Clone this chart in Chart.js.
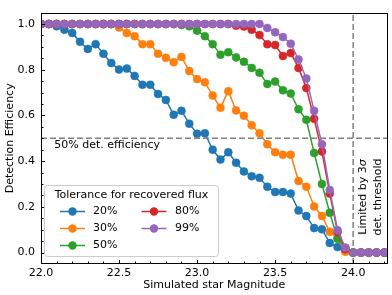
<!DOCTYPE html>
<html>
<head>
<meta charset="utf-8">
<script src="https://cdn.jsdelivr.net/npm/chart.js@4.4.1/dist/chart.umd.min.js"></script>
<style>
  html, body { margin: 0; padding: 0; background: #fff; }
  #wrap { width: 392px; height: 295px; }
</style>
</head>
<body>
<div id="wrap"><canvas id="c" width="392" height="295"></canvas></div>
<script>
// simulated magnitudes (x)
const magnitudes = [22.00, 22.05, 22.10, 22.15, 22.20, 22.25, 22.30, 22.35, 22.40, 22.45,
                    22.50, 22.55, 22.60, 22.65, 22.70, 22.75, 22.80, 22.85, 22.90, 22.95,
                    23.00, 23.05, 23.10, 23.15, 23.20, 23.25, 23.30, 23.35, 23.40, 23.45,
                    23.50, 23.55, 23.60, 23.65, 23.70, 23.75, 23.80, 23.85, 23.90, 23.95,
                    24.00, 24.05, 24.10, 24.15, 24.20]

// detection efficiency per flux tolerance
const eff20 = [1.000, 1.000, 0.990, 0.975, 0.961, 0.922, 0.891, 0.912, 0.870, 0.829,
               0.801, 0.805, 0.773, 0.734, 0.734, 0.694, 0.668, 0.603, 0.620, 0.564,
               0.520, 0.522, 0.450, 0.407, 0.439, 0.393, 0.355, 0.334, 0.327, 0.288,
               0.265, 0.265, 0.258, 0.184, 0.160, 0.107, 0.102, 0.042, 0.024, 0.008,
               0, 0, 0, 0, 0]
const eff30 = [1, 1, 1, 1, 1, 1, 1, 1, 1, 1,
               0.985, 0.961, 0.947, 0.912, 0.912, 0.870, 0.852, 0.833, 0.856, 0.794,
               0.759, 0.745, 0.687, 0.634, 0.706, 0.622, 0.599, 0.557, 0.522, 0.474,
               0.439, 0.428, 0.428, 0.313, 0.288, 0.202, 0.160, 0.091, 0.063, 0.004,
               0, 0, 0, 0, 0]
const eff50 = [1, 1, 1, 1, 1, 1, 1, 1, 1, 1,
               1, 1, 1, 1, 1, 1, 1, 1, 0.996, 0.990,
               0.971, 0.947, 0.912, 0.866, 0.877, 0.854, 0.835, 0.808, 0.787, 0.738,
               0.748, 0.710, 0.696, 0.627, 0.581, 0.436, 0.300, 0.174, 0.060, 0.021,
               0, 0, 0, 0, 0]
const eff80 = [1, 1, 1, 1, 1, 1, 1, 1, 1, 1,
               1, 1, 1, 1, 1, 1, 1, 1, 1, 1,
               1, 1, 1, 1, 1, 0.993, 0.989, 0.975, 0.952, 0.912,
               0.908, 0.860, 0.873, 0.808, 0.720, 0.585, 0.442, 0.258, 0.090, 0.015,
               0, 0, 0, 0, 0]
const eff99 = [1, 1, 1, 1, 1, 1, 1, 1, 1, 1,
               1, 1, 1, 1, 1, 1, 1, 1, 1, 1,
               1, 1, 1, 1, 1, 1, 1, 1, 1, 0.983,
               0.964, 0.943, 0.914, 0.845, 0.762, 0.620, 0.474, 0.274, 0.098, 0.021,
               0, 0, 0, 0, 0]

const seriesLabels = ['20%', '30%', '50%', '80%', '99%']
const seriesValues = [eff20, eff30, eff50, eff80, eff99]
const seriesColors = ['#1f77b4', '#ff7f0e', '#2ca02c', '#d62728', '#9467bd']

const xTickLabels = [22.0, 22.5, 23.0, 23.5, 24.0]
const yTickLabels = [0.0, 0.2, 0.4, 0.6, 0.8, 1.0]

const halfEfficiency = 0.5
const magLimit = 24.0
const xMin = 22.0, xMax = 24.22
const yMin = -0.05, yMax = 1.05

const FONT = 'DejaVu Sans'
const font11 = { family: FONT, size: 11 }

const datasets = seriesValues.map((vals, i) => ({
  label: seriesLabels[i],
  data: magnitudes.map((m, j) => ({ x: m, y: vals[j] })),
  borderColor: seriesColors[i],
  backgroundColor: seriesColors[i],
  pointBackgroundColor: seriesColors[i],
  pointBorderColor: seriesColors[i],
  pointBorderWidth: 0.5,
  pointRadius: 4,
  borderWidth: 1.5,
  tension: 0,
  clip: 0,
  order: 5 - i
}))

// reference lines
datasets.push({
  data: [{ x: xMin, y: halfEfficiency }, { x: xMax, y: halfEfficiency }],
  borderColor: '#808080', borderWidth: 1.5, borderDash: [6, 3],
  pointRadius: 0, clip: 0, order: -1
})
datasets.push({
  data: [{ x: magLimit, y: yMin }, { x: magLimit, y: yMax }],
  borderColor: '#808080', borderWidth: 1.5, borderDash: [6, 3],
  pointRadius: 0, clip: 0, order: -1
})

const overlay = {
  id: 'overlay',
  afterDraw(chart) {
    const { ctx, chartArea: a, scales: { x, y } } = chart
    ctx.save()

    // inward ticks
    ctx.strokeStyle = '#000'
    ctx.lineWidth = 1
    const tick = (x1, y1, x2, y2) => {
      ctx.beginPath(); ctx.moveTo(x1, y1); ctx.lineTo(x2, y2); ctx.stroke()
    }
    for (let v = 22.0; v <= xMax + 1e-9; v += 0.1) {
      const px = Math.round(x.getPixelForValue(v)) + 0.5
      const major = xTickLabels.some(t => Math.abs(t - v) < 1e-6)
      tick(px, a.bottom, px, a.bottom - (major ? 4 : 2.5))
    }
    for (let v = 0; v <= 1.0001; v += 0.05) {
      const py = Math.round(y.getPixelForValue(v)) + 0.5
      const major = yTickLabels.some(t => Math.abs(t - v) < 1e-6)
      tick(a.left, py, a.left + (major ? 4 : 2.5), py)
    }

    // frame
    ctx.strokeRect(Math.round(a.left) + 0.5, Math.round(a.top) + 0.5,
                   Math.round(a.right - a.left) - 1, Math.round(a.bottom - a.top) - 1)

    ctx.fillStyle = '#000'
    ctx.font = `11px ${FONT}`
    ctx.textBaseline = 'middle'

    // 50% label
    ctx.textAlign = 'left'
    ctx.fillText('50% det. efficiency', x.getPixelForValue(22.085), y.getPixelForValue(halfEfficiency) + 7)

    // vertical note
    const cx = x.getPixelForValue(magLimit) + 17
    const cy = 197
    ctx.translate(cx, cy)
    ctx.rotate(-Math.PI / 2)
    const part1 = 'Limited by 3'
    ctx.font = `11px ${FONT}`
    const w1 = ctx.measureText(part1).width
    ctx.font = `italic 11px ${FONT}`
    const w2 = ctx.measureText('σ').width
    let sx = -(w1 + w2) / 2
    ctx.font = `11px ${FONT}`
    ctx.fillText(part1, sx, -7.5)
    ctx.font = `italic 11px ${FONT}`
    ctx.fillText('σ', sx + w1, -7.5)
    ctx.font = `11px ${FONT}`
    ctx.textAlign = 'center'
    ctx.fillText('det. threshold', 0, 7.5)
    ctx.setTransform(1, 0, 0, 1, 0, 0)

    // legend
    const bx = 44.5, by = 185.5, bw = 174, bh = 71, r = 3
    ctx.beginPath()
    ctx.moveTo(bx + r, by)
    ctx.arcTo(bx + bw, by, bx + bw, by + bh, r)
    ctx.arcTo(bx + bw, by + bh, bx, by + bh, r)
    ctx.arcTo(bx, by + bh, bx, by, r)
    ctx.arcTo(bx, by, bx + bw, by, r)
    ctx.closePath()
    ctx.fillStyle = 'rgba(255,255,255,0.8)'
    ctx.fill()
    ctx.strokeStyle = '#cccccc'
    ctx.lineWidth = 1
    ctx.stroke()

    ctx.fillStyle = '#000'
    ctx.textAlign = 'center'
    ctx.fillText('Tolerance for recovered flux', bx + bw / 2, 195.5)
    const cols = [{ lx: 60, tx: 93 }, { lx: 141.5, tx: 175 }]
    const rows = [211.5, 228.5, 245.5]
    seriesLabels.forEach((lab, i) => {
      const c = cols[i < 3 ? 0 : 1]
      const ry = rows[i < 3 ? i : i - 3]
      ctx.strokeStyle = seriesColors[i]
      ctx.lineWidth = 1.5
      ctx.beginPath(); ctx.moveTo(c.lx, ry); ctx.lineTo(c.lx + 25, ry); ctx.stroke()
      ctx.fillStyle = seriesColors[i]
      ctx.beginPath(); ctx.arc(c.lx + 12.5, ry, 4.2, 0, Math.PI * 2); ctx.fill()
      ctx.fillStyle = '#000'
      ctx.textAlign = 'left'
      ctx.fillText(lab, c.tx, ry)
    })

    ctx.restore()
  }
}

new Chart(document.getElementById('c'), {
  type: 'line',
  data: { datasets },
  plugins: [overlay],
  options: {
    responsive: false,
    animation: false,
    devicePixelRatio: 1,
    layout: { padding: { top: 0, right: 1, left: 0, bottom: 0 } },
    plugins: { legend: { display: false }, tooltip: { enabled: false } },
    scales: {
      x: {
        type: 'linear', min: xMin, max: xMax,
        afterFit: s => { s.height = 31 },
        afterBuildTicks: s => { s.ticks = xTickLabels.map(v => ({ value: v })) },
        ticks: { callback: v => v.toFixed(1), font: font11, color: '#000', padding: 3, maxRotation: 0, autoSkip: false },
        grid: { display: false, drawTicks: false },
        border: { display: false },
        title: { display: true, text: 'Simulated star Magnitude', font: font11, color: '#000', padding: { top: 0, bottom: 3.5 } }
      },
      y: {
        type: 'linear', min: yMin, max: yMax,
        afterFit: s => { s.width = 41 },
        afterBuildTicks: s => { s.ticks = yTickLabels.map(v => ({ value: v })) },
        ticks: { callback: v => v.toFixed(1), font: font11, color: '#000', padding: 6, autoSkip: false },
        grid: { display: false, drawTicks: false },
        border: { display: false },
        title: { display: true, text: 'Detection Efficiency', font: font11, color: '#000', padding: { top: 3.5, bottom: 0 } }
      }
    }
  }
})
</script>
</body>
</html>
